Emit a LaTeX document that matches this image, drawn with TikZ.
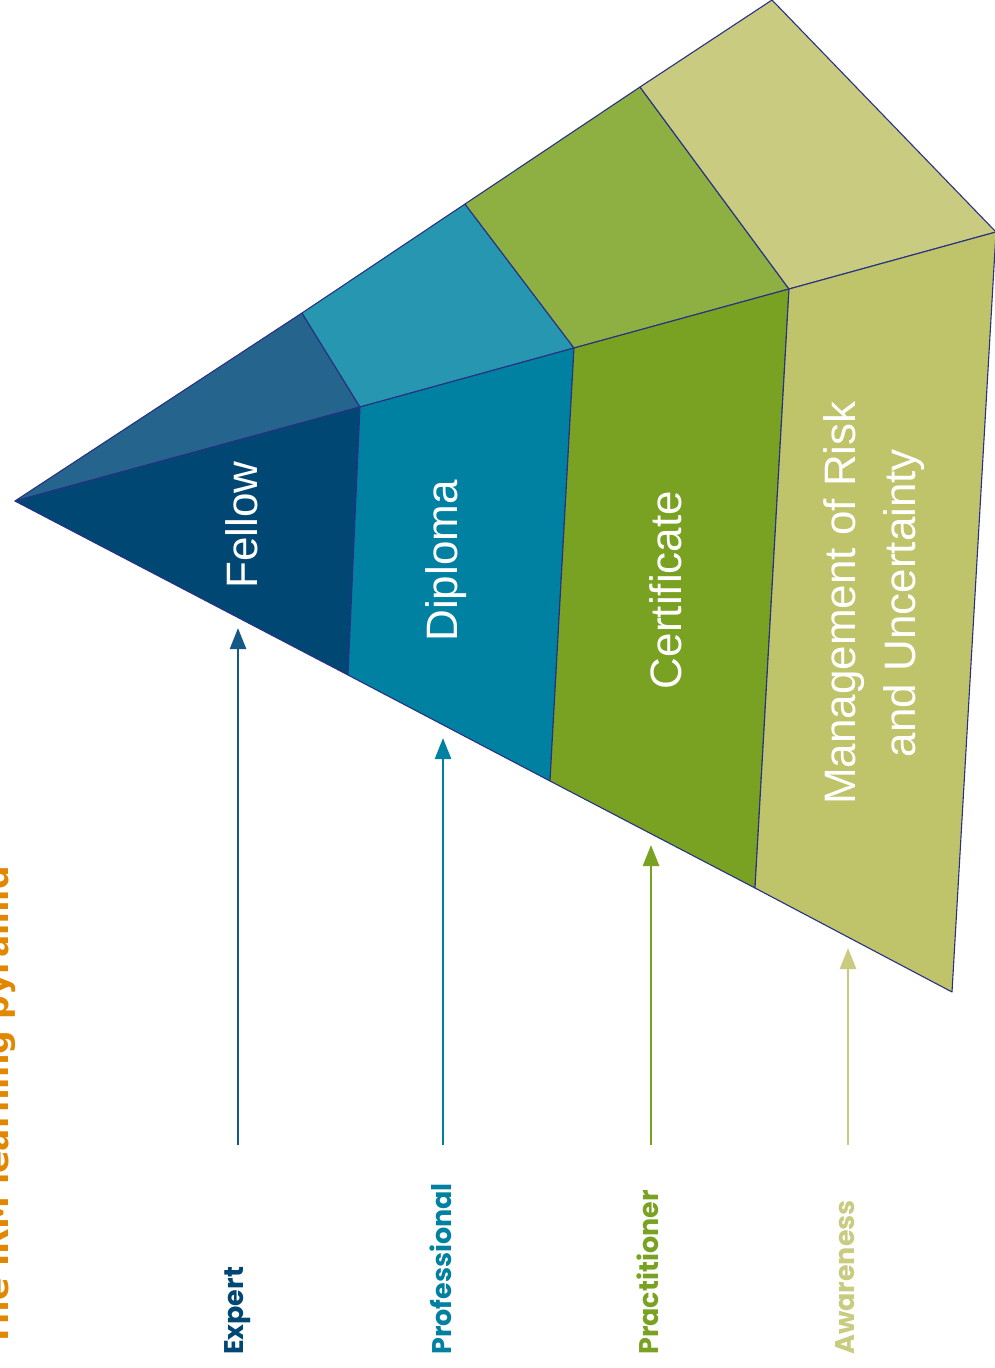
\documentclass[tikz,border=0pt]{standalone}
\usepackage{fontspec}
\setmainfont{Liberation Sans}
\newfontfamily\levelfont{Poppins}
\newfontfamily\titlefont{DejaVu Sans}
\usetikzlibrary{arrows.meta}
\definecolor{frontfellow}{RGB}{0,71,116}
\definecolor{topfellow}{RGB}{37,100,140}
\definecolor{frontdiploma}{RGB}{0,129,161}
\definecolor{topdiploma}{RGB}{39,150,176}
\definecolor{frontcert}{RGB}{122,162,34}
\definecolor{topcert}{RGB}{142,176,67}
\definecolor{frontmgmt}{RGB}{191,195,106}
\definecolor{topmgmt}{RGB}{200,203,128}
\definecolor{edgeblue}{RGB}{40,50,130}
\definecolor{titleorange}{RGB}{226,136,0}
\definecolor{expertblue}{RGB}{20,88,136}
\tikzset{
  face/.style={draw=edgeblue, line width=1.1pt, line join=round},
  facelabel/.style={text=white, rotate=90, align=center, inner sep=0pt, font=\fontsize{44}{60}\selectfont},
  levelarrow/.style={line width=2.5pt, -{Triangle[length=21pt,width=16pt]}},
  levellabel/.style={rotate=90, anchor=west, inner sep=0pt, font=\levelfont\bfseries\fontsize{27}{30}\selectfont}
}
\begin{document}
\begin{tikzpicture}[x=1pt,y=-1pt]
  \useasboundingbox (0,0) rectangle (994,1368);
  % corners of the pyramid: upper edge, ridge, lower edge
  \coordinate (apex) at (15,501);
  \coordinate (t1) at (302,313);
  \coordinate (t2) at (465,204);
  \coordinate (t3) at (640,87);
  \coordinate (t4) at (772,0);
  \coordinate (r1) at (360,407);
  \coordinate (r2) at (574,348);
  \coordinate (r3) at (789,289);
  \coordinate (r4) at (996,232);
  \coordinate (b1) at (348,675);
  \coordinate (b2) at (550,781);
  \coordinate (b3) at (755,888);
  \coordinate (b4) at (952,992);
  % first level is a triangle
  \draw[face, fill=topfellow] (apex) -- (t1) -- (r1) -- cycle;
  \draw[face, fill=frontfellow] (apex) -- (r1) -- (b1) -- cycle;
  \foreach \i/\j/\lvl in {1/2/diploma, 2/3/cert, 3/4/mgmt}{
    \draw[face, fill=top\lvl] (t\i) -- (t\j) -- (r\j) -- (r\i) -- cycle;
    \draw[face, fill=front\lvl] (r\i) -- (r\j) -- (b\j) -- (b\i) -- cycle;
  }
  \node[facelabel] (fellow) at (242,525) {Fellow};
  \node[facelabel] (diploma) at (446,561) {Diploma};
  \node[facelabel] (certificate) at (666,590) {Certificate};
  \node[facelabel] (management) at (874,603) {Management of Risk\\and Uncertainty};
  % arrows up to the levels
  \foreach \k/\x/\y/\c in {1/238/628/expertblue, 2/443/738/frontdiploma, 3/651/845/frontcert, 4/848/948/topmgmt}{
    \coordinate (e\k) at (\x,1145);
    \coordinate (h\k) at (\x,\y);
    \draw[levelarrow, \c] (e\k) -- (h\k);
  }
  \node[levellabel, text=frontfellow] (expert) at (238,1355) {Expert};
  \node[levellabel, text=frontdiploma] (professional) at (441,1355) {Professional};
  \node[levellabel, text=frontcert] (practitioner) at (648,1355) {Practitioner};
  \node[levellabel, text=topmgmt] (awareness) at (845,1355) {Awareness};
  \node[rotate=90, anchor=base west, inner sep=0pt, text=titleorange, font=\titlefont\bfseries\fontsize{33}{36}\selectfont] (title) at (9,1347) {The IRM learning pyramid};
\end{tikzpicture}
\end{document}
